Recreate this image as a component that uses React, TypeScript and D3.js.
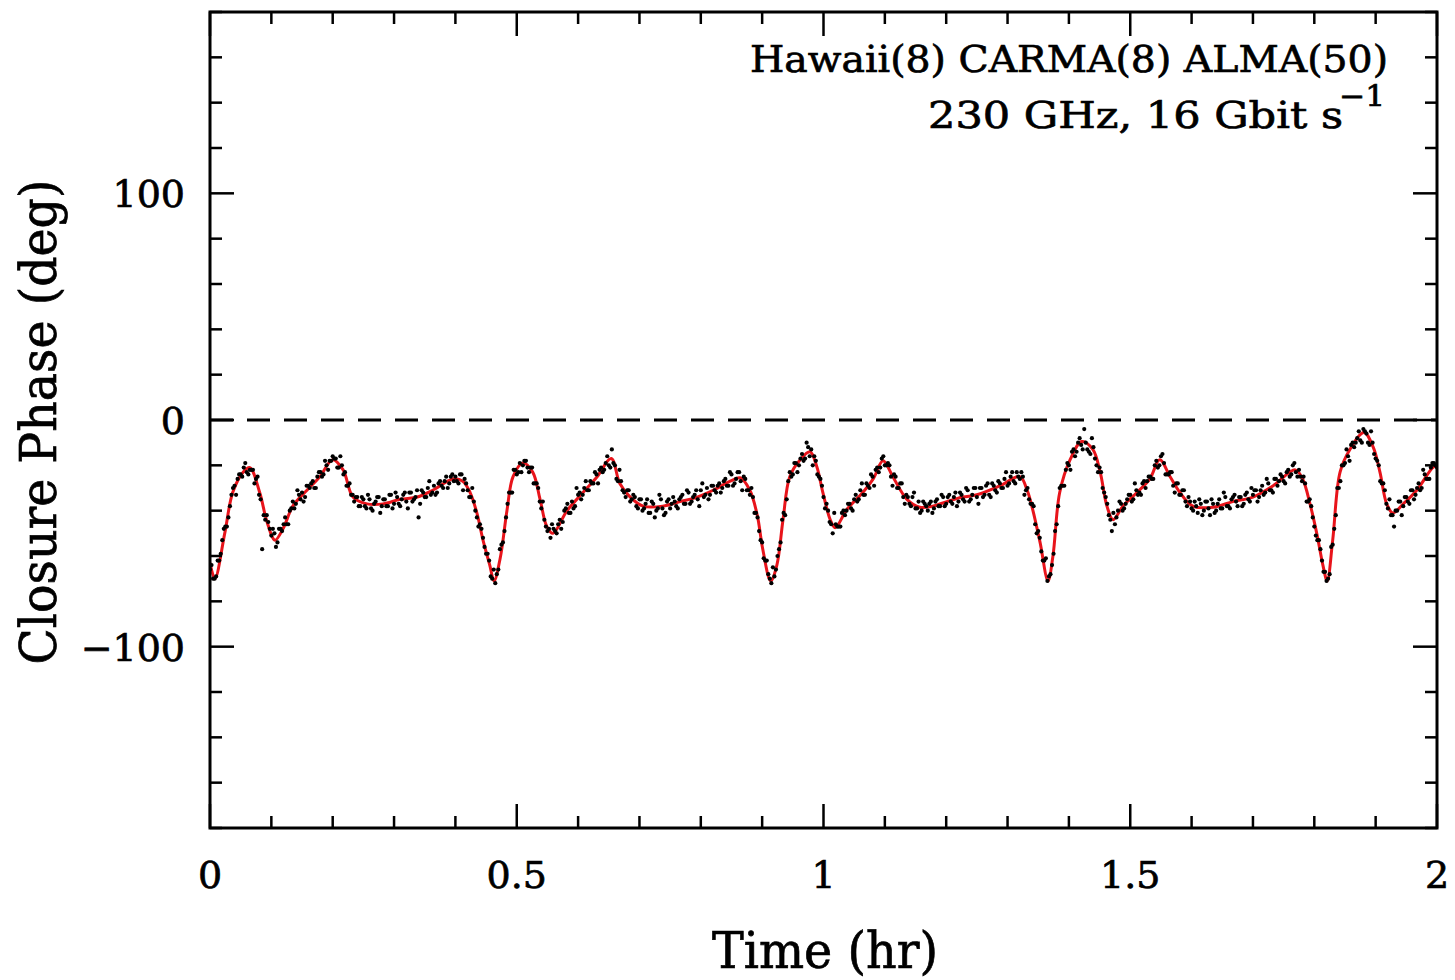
import React from 'react';
import * as d3 from 'd3';

// Model curve (red line): time in hr, closure phase in deg
const modelTime = [
  0.000, 0.008, 0.024, 0.037, 0.054, 0.065, 0.081, 0.093, 0.106, 0.119, 0.135, 0.158, 0.179, 0.200,
  0.217, 0.233, 0.256, 0.282, 0.310, 0.338, 0.363, 0.396, 0.412, 0.424, 0.435, 0.445, 0.456, 0.463,
  0.473, 0.484, 0.494, 0.510, 0.526, 0.538, 0.549, 0.559, 0.582, 0.608, 0.631, 0.654, 0.668, 0.685,
  0.706, 0.738, 0.766, 0.794, 0.820, 0.848, 0.864, 0.880, 0.892, 0.901, 0.914, 0.924, 0.934, 0.945,
  0.962, 0.978, 0.989, 0.999, 1.011, 1.019, 1.038, 1.064, 1.081, 1.097, 1.113, 1.136, 1.157, 1.178,
  1.201, 1.227, 1.250, 1.288, 1.320, 1.332, 1.341, 1.353, 1.366, 1.374, 1.385, 1.402, 1.421, 1.439,
  1.451, 1.462, 1.472, 1.488, 1.511, 1.532, 1.548, 1.565, 1.581, 1.602, 1.635, 1.667, 1.700, 1.733,
  1.769, 1.781, 1.793, 1.804, 1.814, 1.821, 1.830, 1.842, 1.858, 1.881, 1.896, 1.907, 1.918, 1.928,
  1.945, 1.967, 1.993, 2.000,
];
const modelPhase = [
  -63, -70, -50, -32, -23, -21, -32, -45, -53, -48, -38, -31, -25, -17.5,
  -22, -34, -37, -37, -35, -34, -31, -26, -27, -32, -41, -53, -64, -71,
  -61, -40, -25, -19, -23, -35, -47, -50, -40, -32, -25, -17, -28, -34,
  -38, -38, -36, -34, -31, -27, -25.5, -31, -42, -57, -71, -64, -44, -25,
  -17.5, -14, -20.5, -32, -44, -47.5, -39.5, -32, -26, -18, -25, -35, -38.5, -38,
  -36, -34, -33, -29, -25, -31, -39.5, -54, -71, -60, -32, -17.5, -9.5, -13,
  -23, -38, -44, -38, -32, -26, -17.5, -25, -32, -38, -38.5, -36, -34, -29,
  -22, -26, -37, -50, -64, -71, -53, -23, -13, -5.5, -12, -23, -37, -41,
  -37, -31, -21, -20,
];

// Measured closure phases (black dots), every DOT_STEP hr from t = 0 (set A)
// and from t = DOT_STEP / 2 (set B)
const DOT_STEP = 0.005;
const dotPhaseA = [
  -66, -70, -69, -62, -53, -47, -43, -33, -29, -26, -24, -21, -23, -22, -22, -26, -33, -57, -44, -45,
  -51, -50, -54, -48, -46, -46, -40, -36, -37, -33, -32, -34, -29, -28, -30, -25, -23, -24, -20, -18,
  -16, -17, -21, -20, -23, -29, -33, -36, -34, -38, -35, -39, -35, -40, -36, -34, -38, -35, -38, -33,
  -37, -34, -38, -33, -36, -32, -36, -34, -43, -31, -34, -30, -33, -29, -32, -27, -30, -25, -28, -24,
  -25, -28, -24, -26, -31, -34, -36, -43, -46, -52, -59, -62, -70, -72, -66, -55, -49, -37, -32, -22,
  -24, -19, -20, -18, -23, -21, -28, -30, -39, -44, -49, -52, -48, -50, -44, -45, -39, -41, -36, -38,
  -33, -35, -30, -31, -27, -28, -24, -22, -23, -19, -20, -13, -20, -27, -27, -32, -31, -36, -33, -38,
  -35, -40, -37, -41, -36, -43, -39, -35, -42, -36, -39, -34, -38, -35, -33, -37, -32, -36, -33, -35,
  -31, -34, -30, -33, -29, -32, -28, -30, -26, -29, -24, -28, -23, -27, -25, -31, -33, -34, -41, -49,
  -54, -62, -68, -72, -69, -60, -54, -41, -35, -23, -24, -19, -20, -15, -17, -12, -13, -16, -24, -26,
  -34, -37, -45, -50, -46, -47, -41, -42, -37, -39, -35, -36, -31, -33, -28, -30, -25, -22, -23, -17,
  -20, -19, -25, -24, -30, -28, -34, -33, -37, -34, -39, -36, -40, -37, -40, -36, -39, -35, -38, -34,
  -37, -33, -37, -32, -36, -33, -36, -31, -35, -30, -34, -30, -34, -29, -33, -28, -31, -27, -30, -26,
  -29, -25, -27, -23, -26, -25, -31, -35, -37, -46, -49, -58, -62, -71, -68, -59, -46, -30, -29, -22,
  -20, -14, -16, -10, -11, -4, -13, -15, -12, -20, -21, -30, -34, -42, -49, -46, -40, -37, -39, -35,
  -33, -35, -31, -32, -28, -30, -25, -26, -20, -21, -16, -19, -24, -23, -29, -28, -33, -31, -36, -34,
  -39, -36, -41, -37, -40, -36, -42, -37, -40, -35, -39, -34, -38, -35, -33, -38, -34, -37, -32, -36,
  -33, -31, -34, -29, -32, -28, -31, -26, -29, -24, -27, -23, -25, -20, -23, -22, -27, -28, -36, -38,
  -47, -53, -57, -67, -71, -68, -55, -42, -30, -20, -19, -16, -11, -12, -8, -9, -4, -6, -11, -10,
  -17, -20, -28, -31, -39, -42, -47, -40, -36, -38, -34, -37, -31, -33, -28, -30, -24, -26, -21, -19,
  -21,
];
const dotPhaseB = [
  -64, -70, -62, -59, -48, -47, -38, -30, -33, -24, -25, -19, -24, -22, -28, -25, -35, -42, -42, -48,
  -48, -56, -48, -49, -43, -46, -39, -39, -31, -35, -36, -29, -30, -27, -30, -23, -25, -18, -22, -18,
  -17, -21, -16, -24, -29, -28, -33, -34, -38, -34, -38, -33, -39, -37, -34, -41, -35, -38, -33, -39,
  -32, -37, -35, -32, -39, -32, -35, -31, -37, -32, -34, -27, -32, -33, -28, -29, -27, -30, -25, -27,
  -27, -24, -31, -28, -34, -30, -40, -47, -48, -56, -59, -69, -66, -68, -57, -54, -43, -32, -32, -22,
  -23, -23, -18, -21, -21, -28, -28, -36, -36, -47, -48, -46, -49, -46, -48, -40, -37, -41, -39, -30,
  -32, -33, -27, -31, -28, -23, -28, -21, -22, -16, -21, -19, -26, -22, -31, -34, -31, -35, -34, -39,
  -35, -39, -35, -41, -37, -40, -33, -39, -41, -35, -37, -36, -39, -34, -37, -31, -37, -34, -31, -38,
  -28, -33, -35, -29, -31, -29, -32, -27, -29, -23, -29, -26, -23, -31, -26, -31, -30, -41, -43, -53,
  -61, -62, -70, -65, -66, -57, -44, -42, -27, -25, -19, -23, -17, -18, -10, -16, -20, -18, -25, -29,
  -39, -40, -46, -41, -47, -47, -40, -40, -37, -40, -33, -35, -28, -33, -29, -24, -29, -21, -21, -16,
  -20, -20, -29, -25, -30, -28, -37, -34, -38, -32, -39, -41, -36, -38, -37, -41, -36, -38, -33, -38,
  -34, -36, -34, -38, -32, -35, -30, -36, -33, -30, -37, -30, -33, -28, -34, -29, -32, -28, -30, -23,
  -28, -23, -28, -25, -23, -33, -30, -37, -38, -50, -52, -62, -61, -69, -64, -49, -38, -29, -29, -19,
  -22, -13, -14, -8, -13, -10, -14, -8, -17, -23, -23, -32, -37, -44, -41, -43, -36, -40, -37, -33,
  -36, -28, -33, -33, -27, -27, -25, -26, -18, -20, -15, -24, -24, -23, -32, -28, -33, -31, -38, -36,
  -40, -38, -35, -42, -36, -39, -35, -41, -37, -39, -32, -38, -39, -34, -36, -34, -38, -33, -35, -30,
  -31, -36, -31, -33, -26, -31, -32, -26, -27, -25, -28, -22, -24, -19, -25, -25, -25, -36, -35, -43,
  -51, -53, -62, -67, -70, -56, -48, -30, -27, -20, -13, -18, -10, -10, -5, -10, -5, -10, -5, -15,
  -18, -27, -28, -37, -35, -42, -40, -36, -42, -34, -36, -31, -35, -30, -31, -22, -26, -26, -19, -20,
];

const xTickValues = [0, 0.5, 1, 1.5, 2];
const xTickLabels = ['0', '0.5', '1', '1.5', '2'];
const yTickValues = [100, 0, -100];
const yTickLabels = ['100', '0', '\u2212100'];

const W = 1455;
const H = 980;
const L = 210;
const R = 1437;
const T = 12;
const B = 828;
const FONT = '"DejaVu Serif", "Liberation Serif", serif';

export default function App() {
  const x = d3.scaleLinear().domain([0, 2]).range([L, R]);
  const y = d3.scaleLinear().domain([-180, 180]).range([B, T]);

  const minorX = d3.range(0, 21).map((i) => i / 10);
  const minorY = d3.range(-9, 10).map((i) => i * 20);
  const isMajorX = (v: number) => Math.abs(v * 2 - Math.round(v * 2)) < 1e-6;
  const isMajorY = (v: number) => v % 100 === 0;

  const line = d3
    .line<number>()
    .x((_, i) => x(modelTime[i]))
    .y((d) => y(d))
    .curve(d3.curveCatmullRom.alpha(0.5));

  const dots = [
    ...dotPhaseA.map((v, i) => ({ t: i * DOT_STEP, v })),
    ...dotPhaseB.map((v, i) => ({ t: (i + 0.5) * DOT_STEP, v })),
  ];

  const minorLen = 12;
  const majorLen = 24;
  const textStroke = { stroke: '#000', strokeWidth: 0.7 };

  return (
    <svg
      width={W}
      height={H}
      style={{ position: 'absolute', left: 0, top: 0, display: 'block', background: '#fff' }}
      fontFamily={FONT}
    >
      <defs>
        <clipPath id="plotclip">
          <rect x={L} y={T} width={R - L} height={B - T} />
        </clipPath>
      </defs>
      <rect x={0} y={0} width={W} height={H} fill="#fff" />

      {/* zero line */}
      <line
        x1={L}
        x2={R}
        y1={y(0)}
        y2={y(0)}
        stroke="#000"
        strokeWidth={3}
        strokeDasharray="23 14"
      />

      <g clipPath="url(#plotclip)">
        <path d={line(modelPhase) || ''} fill="none" stroke="#e8141b" strokeWidth={3} />
        {dots.map((d, i) => (
          <circle key={i} cx={x(d.t)} cy={y(d.v)} r={2.1} fill="#000" />
        ))}
      </g>

      {/* ticks */}
      <g stroke="#000" strokeWidth={2.5}>
        {minorX.map((v) => {
          const len = isMajorX(v) ? majorLen : minorLen;
          const px = x(v);
          return (
            <g key={'xt' + v}>
              <line x1={px} x2={px} y1={B} y2={B - len} />
              <line x1={px} x2={px} y1={T} y2={T + len} />
            </g>
          );
        })}
        {minorY.map((v) => {
          const len = isMajorY(v) ? majorLen : minorLen;
          const py = y(v);
          return (
            <g key={'yt' + v}>
              <line x1={L} x2={L + len} y1={py} y2={py} />
              <line x1={R} x2={R - len} y1={py} y2={py} />
            </g>
          );
        })}
      </g>

      {/* frame */}
      <rect x={L} y={T} width={R - L} height={B - T} fill="none" stroke="#000" strokeWidth={3} />

      {/* tick labels */}
      <g fontSize={38} fill="#000" {...textStroke}>
        {xTickValues.map((v, i) => (
          <text key={'xl' + i} x={x(v)} y={888} textAnchor="middle">
            {xTickLabels[i]}
          </text>
        ))}
        {yTickValues.map((v, i) => (
          <text key={'yl' + i} x={185} y={y(v) + 14} textAnchor="end">
            {yTickLabels[i]}
          </text>
        ))}
      </g>

      <g fill="#000" {...textStroke}>
        {/* axis titles */}
        <text
          x={825}
          y={968}
          fontSize={50}
          textAnchor="middle"
          textLength={226}
          lengthAdjust="spacingAndGlyphs"
        >
          Time (hr)
        </text>
        <text
          transform={`translate(56,422) rotate(-90)`}
          fontSize={50}
          textAnchor="middle"
          textLength={485}
          lengthAdjust="spacingAndGlyphs"
        >
          Closure Phase (deg)
        </text>

        {/* annotation */}
        <text x={750} y={72} fontSize={38} textLength={638} lengthAdjust="spacingAndGlyphs">
          Hawaii(8) CARMA(8) ALMA(50)
        </text>
        <text x={928} y={128} fontSize={38} textLength={415} lengthAdjust="spacingAndGlyphs">
          230 GHz, 16 Gbit s
        </text>
        <text x={1339} y={106} fontSize={29} textLength={46} lengthAdjust="spacingAndGlyphs">
          {'\u22121'}
        </text>
      </g>
    </svg>
  );
}
